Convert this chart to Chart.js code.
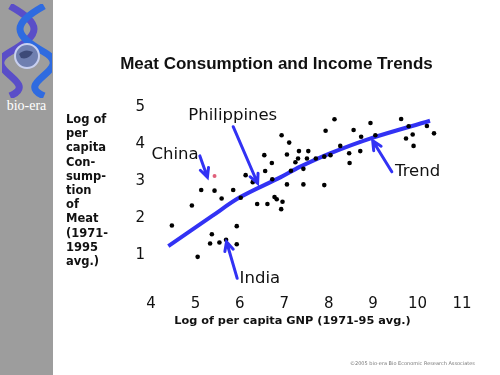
<!DOCTYPE html>
<html>
<head>
<meta charset="utf-8">
<script src="https://cdn.jsdelivr.net/npm/chart.js@4.4.1/dist/chart.umd.min.js"></script>
<style>
  html, body { margin: 0; padding: 0; background: #fff; }
  #wrap { position: relative; width: 500px; height: 375px; overflow: hidden; }
  #chart { position: absolute; left: 0; top: 0; }
  .side { position: absolute; left: 0; top: 0; width: 53px; height: 375px; background: #9d9d9d; }
  .side svg { position: absolute; left: 2px; top: 4px; }
  .brand { position: absolute; left: 0; top: 98px; width: 53px; text-align: center;
           font: 14px "Liberation Serif", serif; color: #fff; }
  .title { position: absolute; left: 53px; width: 447px; top: 54px; text-align: center;
           font: bold 17px "Liberation Sans", Arial, sans-serif; color: #111; }
  .ytitle { position: absolute; left: 66px; top: 112px; width: 60px;
            font: bold 11.5px "DejaVu Sans", sans-serif; line-height: 14.2px; color: #111; }
  .xtitle { position: absolute; left: 140px; width: 305px; top: 314px; text-align: center;
            font: bold 11.3px "DejaVu Sans", sans-serif; color: #111; }
  .copy { position: absolute; left: 350px; top: 360px; font: 5px "DejaVu Sans", sans-serif; color: #777; }
</style>
</head>
<body>
<div id="wrap">
  <canvas id="chart" width="500" height="375"></canvas>
  <div class="side">
    <svg width="50" height="94" viewBox="0 0 50 94">
      <path d="M8 2 C 40 20, 40 30, 8 48 S 40 78, 8 92" stroke="#5a4ec8" stroke-width="7" fill="none"/>
      <path d="M42 2 C 10 20, 10 30, 42 48 S 10 78, 42 92" stroke="#2f6be0" stroke-width="7" fill="none"/>
      <circle cx="25" cy="52" r="12" fill="#6f7fb0" stroke="#c8d0f0" stroke-width="2"/>
      <path d="M17 50 q6 -6 14 -2 q-4 8 -12 6z" fill="#3d4a78"/>
    </svg>
    <div class="brand">bio-era</div>
  </div>
  <div class="title">Meat Consumption and Income Trends</div>
  <div class="ytitle">Log of<br>per<br>capita<br>Con-<br>sump-<br>tion<br>of<br>Meat<br>(1971-<br>1995<br>avg.)</div>
  <div class="xtitle">Log of per capita GNP (1971-95 avg.)</div>
  <div class="copy">©2005 bio-era Bio Economic Research Associates</div>
</div>
<script>
// log GNP per capita (x) and log meat consumption (y) per country
const gnpLog = [6.94, 7.11, 6.55, 6.72, 7.06, 7.33, 7.54, 7.25, 7.31, 7.51, 7.71, 7.90, 8.04,
  7.15, 7.43, 7.93, 8.13, 6.57, 6.13, 6.29, 6.73, 7.06, 7.43, 7.90, 5.13, 5.43, 5.85, 5.59,
  6.02, 4.92, 6.39, 6.62, 6.78, 6.83, 6.96, 6.93, 4.47, 5.93, 5.37, 5.33, 5.54, 5.69, 5.93,
  5.05, 8.26, 8.46, 8.47, 8.56, 8.94, 9.63, 9.80, 10.21, 10.37, 9.89, 9.74, 9.91, 8.73,
  9.05, 8.71];
const meatLog = [4.24, 4.04, 3.70, 3.49, 3.72, 3.81, 3.81, 3.51, 3.61, 3.61, 3.61, 3.66, 3.70,
  3.28, 3.33, 4.36, 4.67, 3.27, 3.16, 2.97, 3.05, 2.91, 2.91, 2.89, 2.76, 2.74, 2.76, 2.53,
  2.55, 2.34, 2.38, 2.38, 2.57, 2.51, 2.44, 2.24, 1.80, 1.78, 1.56, 1.31, 1.34, 1.41, 1.29,
  0.95, 3.95, 3.75, 3.49, 4.38, 4.57, 4.68, 4.48, 4.49, 4.29, 4.26, 4.15, 3.95, 4.20,
  4.24, 3.81];
const chinaX = [5.43];
const chinaY = [3.14];

const trendX = [4.39, 5.37, 6.00, 6.91, 7.36, 8.03, 8.93, 10.28];
const trendY = [1.24, 2.05, 2.56, 3.10, 3.39, 3.75, 4.15, 4.63];

const xTicks = [4, 5, 6, 7, 8, 9, 10, 11];
const yTicks = [1, 2, 3, 4, 5];

// callouts, in data units
const notes = [
  { text: 'Philippines', at: [5.84, 4.78], from: [5.85, 4.47], to: [6.40, 2.94] },
  { text: 'China', at: [4.54, 3.70], from: [5.10, 3.68], to: [5.27, 3.10] },
  { text: 'Trend', at: [10.0, 3.25], from: [9.42, 3.25], to: [8.99, 4.09] },
  { text: 'India', at: [6.45, 0.35], from: [5.94, 0.37], to: [5.70, 1.36] },
];

const BLUE = '#3232f4';

const zip = (xs, ys) => xs.map((x, i) => ({ x, y: ys[i] }));

const calloutPlugin = {
  id: 'callouts',
  afterDatasetsDraw(chart) {
    const { ctx, scales: { x, y } } = chart;
    ctx.save();
    ctx.strokeStyle = BLUE;
    ctx.lineWidth = 3;
    ctx.lineCap = 'round';
    notes.forEach(n => {
      const x0 = x.getPixelForValue(n.from[0]), y0 = y.getPixelForValue(n.from[1]);
      const x1 = x.getPixelForValue(n.to[0]), y1 = y.getPixelForValue(n.to[1]);
      const a = Math.atan2(y1 - y0, x1 - x0);
      ctx.beginPath();
      ctx.moveTo(x0, y0);
      ctx.lineTo(x1, y1);
      ctx.moveTo(x1 - 10 * Math.cos(a - 0.45), y1 - 10 * Math.sin(a - 0.45));
      ctx.lineTo(x1, y1);
      ctx.lineTo(x1 - 10 * Math.cos(a + 0.45), y1 - 10 * Math.sin(a + 0.45));
      ctx.stroke();
    });
    ctx.fillStyle = '#111';
    ctx.font = '16.5px "DejaVu Sans", sans-serif';
    ctx.textAlign = 'center';
    ctx.textBaseline = 'middle';
    notes.forEach(n => {
      ctx.fillText(n.text, x.getPixelForValue(n.at[0]), y.getPixelForValue(n.at[1]));
    });
    ctx.restore();
  }
};

new Chart(document.getElementById('chart'), {
  type: 'scatter',
  data: {
    datasets: [
      {
        type: 'line',
        data: zip(trendX, trendY),
        borderColor: BLUE,
        borderWidth: 4,
        pointRadius: 0,
        tension: 0.35,
        fill: false,
        order: 2,
      },
      {
        data: zip(gnpLog, meatLog),
        backgroundColor: '#000',
        borderWidth: 0,
        pointRadius: 2.3,
        order: 1,
      },
      {
        data: zip(chinaX, chinaY),
        backgroundColor: '#e0607a',
        borderWidth: 0,
        pointRadius: 2,
        order: 1,
      },
    ],
  },
  options: {
    responsive: false,
    animation: false,
    events: [],
    layout: { padding: { left: 0, right: 38, top: 96, bottom: 0 } },
    plugins: { legend: { display: false }, tooltip: { enabled: false } },
    scales: {
      x: {
        type: 'linear',
        min: xTicks[0],
        max: xTicks[xTicks.length - 1],
        afterBuildTicks: s => { s.ticks = xTicks.map(v => ({ value: v })); },
        afterFit: s => { s.height = 83; },
        border: { display: false },
        grid: { display: false, drawTicks: false },
        ticks: { color: '#111', padding: 3, font: { family: 'DejaVu Sans', size: 15 } },
      },
      y: {
        type: 'linear',
        min: 0,
        max: 5.3,
        afterBuildTicks: s => { s.ticks = yTicks.map(v => ({ value: v })); },
        afterFit: s => { s.width = 151; },
        border: { display: false },
        grid: { display: false, drawTicks: false },
        ticks: { color: '#111', padding: 6, font: { family: 'DejaVu Sans', size: 15 } },
      },
    },
  },
  plugins: [calloutPlugin],
});
</script>
</body>
</html>
